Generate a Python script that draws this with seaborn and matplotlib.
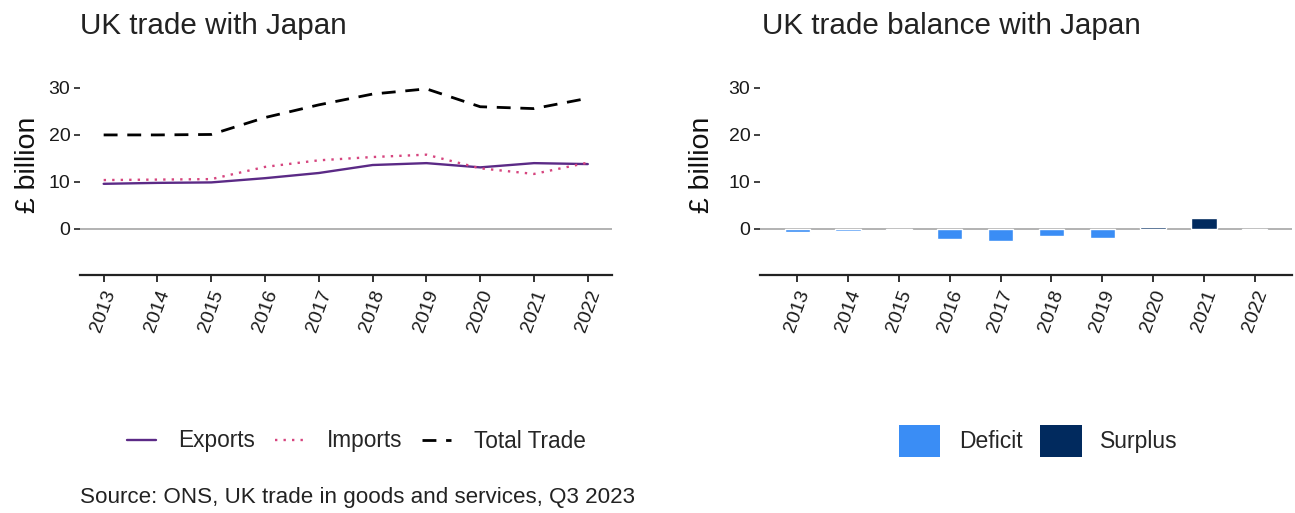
import matplotlib
matplotlib.use("Agg")
import matplotlib.pyplot as plt
import seaborn as sns
import pandas as pd
import numpy as np
from matplotlib.lines import Line2D
from matplotlib.patches import Patch

years = [2013, 2014, 2015, 2016, 2017, 2018, 2019, 2020, 2021, 2022]
exports = [9.6, 9.8, 9.9, 10.8, 11.9, 13.6, 14.0, 13.1, 14.0, 13.8]
imports = [10.4, 10.5, 10.6, 13.2, 14.6, 15.3, 15.8, 12.9, 11.7, 14.1]
total_trade = [20.0, 20.0, 20.1, 23.7, 26.4, 28.7, 29.8, 26.0, 25.6, 27.8]
balance = [-0.6, -0.4, -0.3, -2.1, -2.6, -1.6, -1.9, 0.4, 2.4, -0.3]

col_exp = "#5b2a86"
col_imp = "#d6457f"
col_tot = "#000000"
col_def = "#3a8df5"
col_sur = "#012a5e"

sns.set_theme(style="white")
plt.rcParams["font.family"] = ["Liberation Sans", "DejaVu Sans"]

fig = plt.figure(figsize=(12.95, 5.13), dpi=100)
W, H = 1295, 513

def ax_rect(x0, x1, y0, y1):
    return [x0 / W, 1 - y1 / H, (x1 - x0) / W, (y1 - y0) / H]

ax1 = fig.add_axes(ax_rect(80, 612, 79, 275))
ax2 = fig.add_axes(ax_rect(760, 1292, 79, 275))

labels = [str(y) for y in years]
pos = list(range(len(years)))

df = pd.DataFrame({
    "pos": pos * 3,
    "value": exports + imports + total_trade,
    "series": ["Exports"] * 10 + ["Imports"] * 10 + ["Total Trade"] * 10,
})

ax1.axhline(0, color="#a6a6a6", lw=1.2, zorder=0)
styles = {"Exports": (col_exp, "-", 1.7), "Imports": (col_imp, (0, (1, 2.6)), 1.7),
          "Total Trade": (col_tot, (0, (5, 3.5)), 2.0)}
for name, (c, ls, lw) in styles.items():
    sub = df[df.series == name]
    sns.lineplot(data=sub, x="pos", y="value", ax=ax1, color=c, linestyle=ls, lw=lw,
                 legend=False)

bdf = pd.DataFrame({"pos": pos, "value": balance,
                    "kind": ["Surplus" if v > 0 else "Deficit" for v in balance]})
ax2.axhline(0, color="#a6a6a6", lw=1.2, zorder=0)
sns.barplot(data=bdf, x="pos", y="value", hue="kind", dodge=False, ax=ax2,
            palette={"Deficit": col_def, "Surplus": col_sur}, width=0.5,
            saturation=1, legend=False, native_scale=True, zorder=3)

for ax, xl in [(ax1, (-0.44, 9.45)), (ax2, (-0.733, 9.733))]:
    ax.set_xlim(*xl)
    ax.set_ylim(-9.8, 31.9)
    ax.set_xticks(pos)
    ax.set_xticklabels(labels, rotation=70, ha="center", va="top", fontsize=14, color="#1a1a1a")
    ax.set_yticks([0, 10, 20, 30])
    ax.set_yticklabels(["0", "10", "20", "30"], fontsize=14, color="#1a1a1a")
    ax.tick_params(axis="x", length=5, width=1.3, color="#222222", pad=4, bottom=True)
    ax.tick_params(axis="y", length=4, width=1.3, color="#333333", pad=3, left=True)
    for s in ["top", "right", "left"]:
        ax.spines[s].set_visible(False)
    ax.spines["bottom"].set_color("#222222")
    ax.spines["bottom"].set_linewidth(1.6)
    ax.set_xlabel("")
    ax.set_ylabel("")
    ax.grid(False)

fig.text(28 / W, 1 - 165 / H, "£ billion", fontsize=20.5, color="#111111", rotation=90,
         va="center", ha="center")
fig.text(702 / W, 1 - 165 / H, "£ billion", fontsize=20.5, color="#111111", rotation=90,
         va="center", ha="center")

fig.text(80 / W, 1 - 26 / H, "UK trade with Japan", fontsize=21.3, color="#222222", va="center", ha="left")
fig.text(762 / W, 1 - 26 / H, "UK trade balance with Japan", fontsize=21.3, color="#222222", va="center", ha="left")

h1 = [Line2D([], [], color=styles[n][0], linestyle=styles[n][1], lw=styles[n][2]) for n in styles]
fig.legend(h1, list(styles.keys()), loc="center", bbox_to_anchor=(356 / W, 1 - 441 / H),
           ncol=3, frameon=False, fontsize=16.3, handlelength=1.3, columnspacing=0.85,
           handletextpad=1.0)

h2 = [Patch(facecolor=col_def, edgecolor="none"), Patch(facecolor=col_sur, edgecolor="none")]
fig.legend(h2, ["Deficit", "Surplus"], loc="center", bbox_to_anchor=(1038 / W, 1 - 441 / H),
           ncol=2, frameon=False, fontsize=16.5, handlelength=1.83, handleheight=1.83,
           columnspacing=0.75, handletextpad=0.8)

fig.text(80 / W, 1 - 497 / H, "Source: ONS, UK trade in goods and services, Q3 2023",
         fontsize=16.1, color="#222222", va="center", ha="left")

fig.savefig("out.png", dpi=100)
